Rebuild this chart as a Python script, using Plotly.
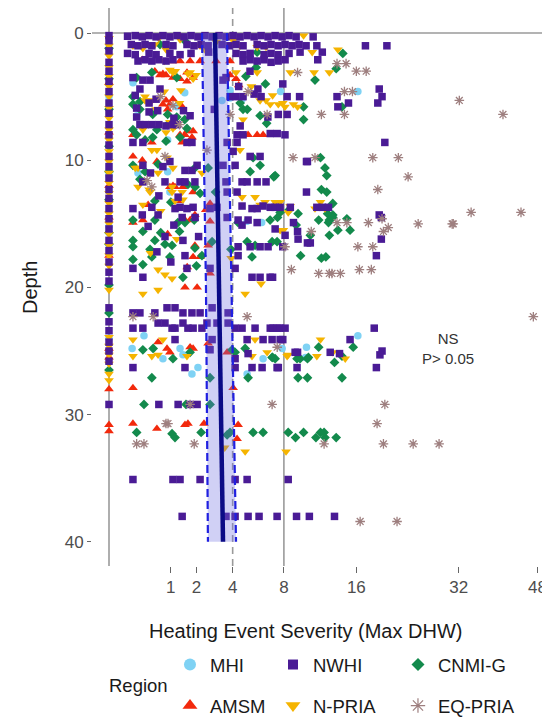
import math
import plotly.graph_objects as go

# ---------------- data: (Max DHW, depth in m) per region ----------------
mhi = [(0, 5.0), (0, 11.2), (0, 15.2), (0, 24.0), (0, 25.0),
       (0.15, 3.9), (3.83, 4.5), (7.7, 4.6), (16.2, 4.6), (3.34, 5.3), (4.63, 5.2), (3.83, 5.1),
       (1.20, 5.8), (1.5, 4.7), (0.22, 11.0), (0.90, 10.9), (0.97, 12.5), (4.99, 14.8), (6.1, 14.9),
       (0.32, 23.8), (10.2, 24.7), (0.14, 24.8), (0.76, 25.6), (1.32, 24.8), (1.43, 25.3),
       (6.21, 25.6), (7.84, 24.8), (10.1, 25.5), (16.2, 23.8), (2.07, 26.3), (1.80, 26.8), (4.99, 26.8),
       (0.20, 6.5), (0.90, 8.4)]

amsm = [(0, 3.9), (0, 7.8), (0, 12.0), (0, 14.5), (0, 17.5), (0, 24.8), (0, 25.5), (0, 28.0), (0, 30.8), (0, 31.3),
        (1.32, 0.3), (0.29, 2.1), (1.05, 2.2), (1.32, 2.2), (1.72, 2.2), (2.17, 2.2), (3.0, 2.2), (3.83, 2.2),
        (0.68, 3.3), (0.85, 3.3), (1.07, 3.5), (1.32, 3.6), (1.59, 3.1), (3.83, 3.3), (4.22, 3.6),
        (0.55, 3.0), (0.76, 3.2), (1.59, 3.8), (1.85, 3.5), (4.4, 4.1),
        (0.85, 5.3), (0.97, 5.6), (1.07, 5.2), (1.40, 5.8), (0.76, 5.6), (0.90, 6.0), (1.60, 7.7), (1.85, 7.7),
        (0.15, 8.0), (1.32, 8.0), (1.51, 8.0), (5.06, 8.0), (5.74, 8.0), (6.21, 8.0), (6.96, 8.0), (1.80, 8.2),
        (0.48, 8.6), (1.40, 8.6), (0.15, 9.7), (0.29, 10.0), (0.60, 10.1),
        (0.97, 12.1), (1.14, 12.1), (1.43, 12.1), (1.85, 12.5), (1.07, 12.0),
        (2.67, 13.4), (2.45, 13.9), (0.40, 13.5), (1.30, 13.2),
        (0.15, 14.9), (0.30, 14.7), (1.51, 14.7), (1.72, 14.7), (1.93, 14.3), (2.67, 14.8), (0.90, 15.8),
        (1.93, 16.7), (2.57, 16.7), (1.85, 17.6), (2.17, 17.6), (2.67, 18.9), (1.60, 18.4), (1.51, 20.0),
        (2.03, 20.0),
        (0.63, 24.3), (2.57, 24.4), (0.88, 24.8), (0.97, 25.1), (1.72, 24.7), (1.85, 24.8), (3.65, 25.1),
        (0.15, 27.9), (4.03, 27.9),
        (0.15, 30.7), (0.60, 31.1), (1.63, 30.7), (1.51, 30.8), (2.36, 30.7), (4.36, 30.8), (4.29, 31.9)]

nwhi = [(0, 0.2), (0, 0.6), (0, 1.4), (0, 2.3), (0, 3.0), (0, 3.8), (0, 4.6), (0, 5.5), (0, 6.3), (0, 7.2),
        (0, 8.0), (0, 8.8), (0, 9.7), (0, 10.5), (0, 11.4), (0, 12.3), (0, 13.0), (0, 13.8), (0, 14.6),
        (0, 15.4), (0, 16.3), (0, 17.1), (0, 18.0), (0, 18.8), (0, 19.5), (0, 21.6), (0, 22.7), (0, 23.4),
        (0, 24.3), (0, 25.0), (0, 25.8), (0, 29.2),
        (0.09, 0.25), (0.18, 0.2), (0.29, 0.3), (0.42, 0.2), (0.58, 0.3), (0.76, 0.2), (0.97, 0.3), (1.21, 0.2),
        (1.47, 0.3), (1.76, 0.2), (2.07, 0.3), (2.41, 0.2), (2.78, 0.3), (3.17, 0.2), (3.58, 0.3), (4.03, 0.2),
        (4.49, 0.3), (4.99, 0.2), (5.51, 0.3), (6.05, 0.2), (6.62, 0.3), (7.22, 0.2), (7.84, 0.3), (8.48, 0.2),
        (9.16, 0.3), (10.9, 0.3),
        (0.13, 0.9), (0.22, 1.0), (0.34, 0.9), (0.48, 1.0), (0.85, 0.9), (1.07, 1.0), (1.59, 0.9), (1.89, 1.0),
        (2.22, 0.9), (2.57, 1.0), (3.34, 0.9), (3.77, 1.0), (4.22, 0.9), (4.70, 1.0), (5.74, 0.9), (6.29, 1.0),
        (6.87, 0.9), (7.48, 1.0), (8.11, 0.9), (8.77, 1.0), (9.45, 0.9), (10.16, 1.0), (11.3, 1.0), (17.2, 1.0),
        (20.2, 1.0),
        (0.09, 1.6), (0.18, 1.7), (0.42, 1.6), (0.58, 1.7), (0.97, 1.6), (1.32, 1.7), (1.76, 1.6), (2.6, 1.5),
        (4.22, 1.6), (4.70, 1.7), (5.21, 1.6), (6.29, 1.7), (6.87, 1.6), (7.48, 1.7), (8.48, 1.6), (9.55, 1.5),
        (11.9, 1.5),
        (0.22, 2.2), (0.34, 2.1), (0.48, 2.2), (0.65, 2.1), (0.85, 2.2), (1.07, 2.1), (4.70, 2.2), (5.21, 2.1),
        (5.74, 2.2), (6.29, 2.1), (6.87, 2.3), (7.48, 2.2), (8.11, 2.1), (11.4, 2.1),
        (0.15, 3.5), (0.30, 3.7), (0.44, 3.7), (3.40, 3.7), (3.58, 3.5), (7.9, 4.0), (5.2, 3.0), (4.4, 4.2),
        (5.8, 4.4),
        (0.25, 4.4), (0.68, 4.4), (3.83, 5.0), (4.22, 5.0), (4.70, 5.0), (5.51, 4.8), (6.05, 5.0), (8.3, 5.0),
        (9.5, 5.0), (13.6, 5.0), (19.1, 4.4), (19.5, 5.0), (18.9, 5.5), (15.0, 5.5), (13.7, 5.8),
        (0.18, 4.9), (0.58, 5.2), (0.42, 5.5),
        (0.20, 5.9), (0.42, 6.2), (0.62, 6.1), (1.72, 6.5), (2.9, 6.0), (7.5, 6.4), (8.3, 6.4),
        (1.10, 6.7), (1.45, 6.1), (0.20, 6.6), (6.6, 6.6), (4.5, 7.3),
        (0.25, 7.2), (0.34, 7.2), (0.48, 7.2), (0.65, 7.2), (0.85, 7.3), (1.07, 7.2), (1.21, 7.2),
        (4.29, 8.0), (4.70, 8.0), (6.8, 7.9), (7.4, 7.9), (8.1, 8.0), (0.15, 8.6), (0.30, 8.6), (1.59, 8.6),
        (1.80, 8.6), (3.65, 8.6), (4.29, 8.6), (19.9, 8.6),
        (4.03, 9.3), (5.21, 9.7), (5.97, 9.7), (10.3, 10.1), (0.30, 10.4), (0.76, 10.5), (0.97, 10.1),
        (1.51, 10.8), (1.80, 10.8), (2.03, 10.4), (3.40, 10.4), (4.16, 10.4), (10.2, 10.1), (0.45, 11.0),
        (0.30, 11.7), (0.82, 11.7), (1.32, 11.7), (1.51, 11.7), (1.93, 11.7), (3.58, 11.7), (4.63, 11.7),
        (4.99, 11.7), (5.74, 11.7), (6.45, 11.7), (10.2, 12.5), (4.29, 12.5), (3.65, 12.5), (0.65, 12.8),
        (1.25, 12.9),
        (0.15, 13.8), (0.48, 13.7), (1.14, 13.8), (1.32, 13.7), (1.59, 13.8), (1.85, 13.7), (2.67, 13.8),
        (3.05, 13.7), (4.63, 13.6), (5.35, 13.8), (5.74, 13.8), (6.21, 13.6), (6.8, 13.7), (7.22, 13.7),
        (7.66, 13.7), (8.6, 13.7), (11.3, 13.7), (11.9, 13.7), (12.6, 13.7),
        (0.29, 14.3), (0.63, 14.3), (1.40, 14.5), (1.94, 14.5), (3.65, 14.5), (4.36, 14.7), (5.06, 14.7),
        (5.74, 14.9), (4.63, 15.1), (7.22, 15.4), (8.9, 14.9), (9.3, 15.6), (19.1, 14.3), (19.4, 14.5),
        (0.40, 15.2), (1.10, 15.1),
        (8.11, 15.9), (9.35, 16.2), (10.6, 16.5), (10.3, 16.5), (19.4, 16.2), (0.82, 16.0), (1.43, 16.3),
        (4.36, 16.8), (5.21, 16.8), (5.97, 16.8), (6.62, 16.8), (7.9, 16.8), (18.7, 17.5), (1.51, 17.5),
        (4.36, 17.5), (2.10, 16.0), (0.60, 17.2), (1.00, 18.0),
        (0.15, 18.5), (0.30, 19.2), (1.59, 18.5), (2.67, 18.5), (4.16, 18.5), (5.35, 19.2), (5.97, 19.2),
        (6.79, 19.2), (7.0, 19.2),
        (0.88, 21.6), (1.14, 21.6), (2.78, 21.6), (0.15, 22.0), (0.25, 22.0), (0.55, 22.0), (1.43, 22.0),
        (1.80, 22.0), (2.17, 22.0), (3.71, 22.0), (0.63, 22.8), (0.82, 22.8), (1.43, 22.8), (2.51, 22.8),
        (3.05, 22.8), (3.71, 22.8),
        (0.15, 23.2), (0.30, 23.2), (1.04, 23.2), (1.14, 23.2), (1.63, 23.2), (1.85, 23.2), (2.26, 23.2),
        (4.16, 23.2), (4.63, 23.2), (5.58, 23.2), (6.8, 23.2), (7.04, 23.2), (7.4, 23.2), (7.66, 23.2),
        (8.11, 23.2), (18.4, 23.2),
        (1.14, 24.1), (2.78, 24.1), (4.99, 24.1), (6.21, 24.1), (6.96, 24.1), (7.66, 24.1), (7.9, 24.1),
        (15.2, 24.1),
        (2.67, 24.9), (9.06, 25.1), (12.8, 25.1), (5.06, 25.2), (4.16, 25.6), (9.3, 25.1), (13.9, 25.2),
        (19.5, 25.0), (19.2, 25.3),
        (0.15, 26.3), (1.51, 26.3), (4.16, 26.3), (5.35, 26.3), (6.13, 26.3), (7.39, 26.3), (7.5, 26.3),
        (9.25, 26.3), (18.7, 26.3),
        (0.65, 29.2), (1.25, 29.2), (1.72, 29.2), (2.03, 29.2),
        (0.15, 35.1), (1.07, 35.1), (1.32, 35.1), (2.17, 35.1), (4.16, 35.1), (4.99, 35.1), (8.4, 35.1),
        (1.40, 38.0), (3.58, 38.0), (4.16, 38.0), (5.06, 38.0), (5.89, 38.0), (7.39, 38.0), (9.2, 38.0),
        (10.5, 38.0), (13.3, 38.0)]

npria = [(0, 0.4), (0, 1.0), (0, 1.8), (0, 2.7), (0, 3.4), (0, 4.2), (0, 5.0), (0, 5.9), (0, 6.7), (0, 7.6),
         (0, 8.4), (0, 9.3), (0, 10.1), (0, 11.0), (0, 11.8), (0, 12.6), (0, 13.4), (0, 14.2), (0, 15.0),
         (0, 15.8), (0, 16.7), (0, 17.5), (0, 18.3), (0, 20.2), (0, 23.9), (0, 24.6), (0, 25.3), (0, 26.0),
         (0, 26.8), (0, 27.3),
         (0.15, 1.0), (0.30, 1.2), (0.55, 0.9), (0.85, 1.3), (1.32, 0.5), (2.17, 1.0), (2.41, 1.3), (4.03, 0.6),
         (4.49, 1.0), (5.74, 1.1), (6.45, 1.1), (9.9, 0.2), (10.8, 1.5), (13.7, 1.3), (0.65, 0.4), (3.0, 0.7),
         (0.80, 2.2), (1.07, 3.1), (1.72, 3.1), (1.85, 3.6), (1.98, 3.3), (4.22, 3.1), (5.74, 3.1), (8.6, 3.1),
         (11.0, 3.1), (12.7, 3.1), (0.97, 2.9), (1.15, 3.0), (1.63, 3.2), (5.3, 4.2),
         (0.34, 5.3), (0.48, 5.3), (0.80, 4.6), (1.30, 5.5), (5.97, 5.3), (6.45, 5.3), (6.8, 5.6), (7.5, 5.6),
         (7.9, 5.5), (8.1, 5.8), (8.9, 5.6), (9.3, 5.8), (0.34, 5.0), (0.58, 6.0), (1.35, 4.5), (7.0, 4.9),
         (4.7, 6.8),
         (0.30, 7.6), (0.85, 7.8), (1.07, 7.5), (0.97, 7.0), (1.15, 7.3), (0.48, 9.2), (0.60, 9.2), (0.88, 9.8),
         (4.49, 9.2),
         (0.18, 10.6), (0.22, 10.6), (0.63, 11.0), (1.07, 10.6), (2.26, 11.0), (0.22, 12.1), (0.42, 12.3),
         (1.04, 12.1), (0.44, 12.5), (1.04, 12.5), (1.40, 12.5), (1.43, 13.1), (1.14, 13.2),
         (0.30, 13.5), (0.70, 14.0),
         (4.63, 12.9), (5.58, 12.9), (5.97, 13.5), (6.37, 13.3), (7.22, 13.3), (7.66, 13.3), (8.58, 13.6),
         (11.7, 13.3), (11.1, 13.8), (12.2, 13.8), (8.4, 14.1), (7.66, 15.5), (7.95, 15.5), (1.20, 16.2),
         (0.45, 17.3),
         (0.63, 18.6), (0.82, 19.0), (1.04, 19.3), (3.9, 17.7), (6.05, 19.7), (0.30, 20.5), (0.63, 20.2),
         (4.85, 20.5),
         (0.15, 24.1), (0.76, 24.1), (5.58, 24.1), (11.7, 24.1), (0.15, 25.4), (0.48, 25.4), (0.63, 25.3),
         (1.59, 25.4), (5.35, 25.4), (6.54, 25.1), (8.30, 25.4), (11.3, 25.4), (8.4, 25.3), (13.1, 25.1),
         (14.6, 25.6),
         (3.5, 32.6), (4.85, 32.9), (8.2, 32.9)]

cnmig = [(0, 1.2), (0, 3.6), (0, 6.0), (0, 8.9), (0, 10.9), (0, 13.1), (0, 15.7), (0, 16.6), (0, 19.8),
         (0, 22.0), (0, 26.5),
         (0.68, 0.9), (1.50, 0.6), (5.74, 1.5), (14.3, 1.6), (13.5, 2.8), (11.1, 3.7), (0.20, 3.5), (0.48, 3.1),
         (1.20, 3.5), (5.66, 2.7), (4.9, 3.4), (6.4, 4.0),
         (0.15, 5.6), (0.25, 6.0), (0.50, 6.4), (4.70, 6.0), (5.00, 6.0), (5.97, 6.5), (14.2, 5.8), (9.9, 5.8),
         (9.9, 6.8), (0.90, 7.2), (1.2, 6.6), (0.15, 5.0), (0.25, 5.4), (0.90, 6.4), (1.50, 6.8), (4.5, 5.5),
         (6.5, 7.1),
         (0.15, 7.6), (0.60, 7.6), (0.34, 8.4), (1.59, 7.5), (0.20, 8.0), (0.50, 8.2), (0.85, 8.5), (1.32, 8.2),
         (0.15, 10.4), (0.34, 10.9), (0.63, 10.3), (1.93, 10.6), (2.57, 10.6), (5.21, 10.9), (5.97, 10.4),
         (7.22, 11.2), (12.2, 10.6), (12.4, 11.2), (11.7, 9.8), (7.1, 11.3), (5.43, 9.8), (0.25, 11.5),
         (1.63, 11.9), (1.94, 12.1), (2.17, 12.6), (2.97, 12.5), (11.8, 12.3), (12.4, 12.5), (0.55, 13.2),
         (1.00, 13.3),
         (7.66, 14.1), (8.49, 13.9), (0.15, 14.7), (0.55, 14.7), (1.24, 14.9), (1.51, 14.9), (1.90, 14.7),
         (4.36, 14.9), (6.79, 14.7), (7.43, 14.5), (9.35, 14.2), (9.16, 15.1), (12.5, 14.2), (12.7, 14.7),
         (13.1, 13.4), (13.1, 14.3), (13.1, 14.5), (11.5, 14.7), (12.6, 14.9), (13.7, 15.5), (15.2, 15.5),
         (14.8, 14.6), (10.6, 15.9), (12.7, 15.9), (0.30, 15.6), (0.70, 15.7), (1.30, 15.6),
         (0.15, 16.3), (0.15, 16.8), (0.44, 17.0), (0.55, 16.3), (0.82, 16.6), (1.04, 16.7), (1.93, 16.9),
         (2.26, 17.5), (2.78, 16.4), (3.89, 17.0), (4.99, 16.4), (5.35, 17.6), (5.58, 16.7), (6.96, 16.4),
         (7.39, 16.4), (9.6, 17.5), (11.8, 17.7),
         (0.15, 17.8), (0.48, 17.6), (0.97, 17.6), (12.3, 17.6), (1.43, 19.2), (0.30, 18.2), (2.00, 18.3),
         (0.30, 24.9), (0.51, 24.8), (1.72, 25.1), (1.07, 25.6), (3.96, 24.9), (4.16, 25.1), (4.85, 24.8),
         (6.96, 25.5), (7.22, 25.6), (9.25, 25.6), (9.55, 25.6), (10.4, 25.5), (7.0, 25.5), (10.3, 25.6),
         (13.3, 25.9), (14.2, 25.4), (11.5, 24.7), (15.6, 24.7),
         (0.48, 27.1), (2.67, 27.1), (5.06, 27.1), (9.35, 27.1), (10.3, 27.1), (14.2, 27.1),
         (0.32, 29.2), (1.55, 29.2), (2.67, 29.2),
         (0.20, 31.4), (1.04, 31.5), (1.14, 31.8), (2.22, 31.4), (3.65, 31.6), (3.83, 31.4), (5.43, 31.4),
         (6.21, 31.4), (8.4, 31.4), (9.1, 31.8), (9.9, 31.4), (11.2, 31.8), (11.7, 31.4), (12.1, 31.4),
         (12.2, 31.8), (13.5, 31.8)]

eqpria = [(13.6, 2.4), (14.7, 2.4), (16.0, 3.0), (17.3, 3.0), (9.3, 3.1), (14.5, 4.6), (15.5, 4.6),
          (32.1, 5.3), (40.6, 6.4), (11.8, 6.4), (14.5, 6.4), (5.06, 4.6), (6.54, 6.4), (3.83, 6.4),
          (1.07, 5.7), (0.70, 5.0), (1.30, 7.2), (0.82, 9.7), (2.51, 9.2), (8.86, 9.8), (11.1, 9.8),
          (18.2, 9.8), (21.9, 9.8), (23.4, 11.3), (18.9, 12.3), (0.38, 11.6), (0.48, 12.1),
          (13.6, 14.9), (14.8, 14.9), (17.6, 14.9), (19.5, 14.6), (20.4, 15.3), (19.7, 15.6), (25.0, 15.0),
          (30.8, 15.0), (31.0, 15.0), (34.3, 14.1), (44.4, 14.1), (10.7, 15.6), (16.2, 16.8), (18.2, 16.8),
          (8.1, 16.8), (8.7, 18.6), (11.5, 18.9), (12.7, 18.9), (13.0, 18.9), (14.0, 18.9), (16.4, 18.6),
          (18.0, 18.6), (47.1, 22.3), (0.15, 22.3), (0.51, 22.3), (4.99, 22.3), (7.4, 24.7),
          (1.72, 29.2), (6.96, 29.2), (19.9, 29.2), (18.8, 30.7), (0.85, 30.7), (0.91, 30.7),
          (0.20, 32.3), (0.32, 32.3), (1.90, 32.3), (12.1, 32.3), (19.7, 32.3), (24.2, 32.3), (28.5, 32.3),
          (16.5, 38.4), (21.7, 38.4)]

# regression fit (Max DHW) with confidence band, by depth
fit_depth = [0, 10, 20, 30, 40]
fit_dhw = [2.94, 3.05, 3.17, 3.28, 3.40]
fit_lo = [2.26, 2.36, 2.46, 2.51, 2.56]
fit_hi = [3.64, 3.77, 3.90, 4.06, 4.22]

x_ticks = [1, 2, 4, 8, 16, 32, 48]
y_ticks = [0, 10, 20, 30, 40]
ref_dhw_solid = [0, 8]
ref_dhw_dashed = [4]
ref_depth = [0]
stat_text = "NS<br>P> 0.05"
stat_pos = (30, 24.8)

# ---------------- styling ----------------
FONT = "Liberation Sans, Arial, sans-serif"
styles = {
    "MHI": dict(symbol="circle", color="#7fd2f4", size=7.5),
    "AMSM": dict(symbol="triangle-up", color="#f2290c", size=8.5),
    "NWHI": dict(symbol="square", color="#4a1b95", size=7.5),
    "N-PRIA": dict(symbol="triangle-down", color="#f5b400", size=8.5),
    "CNMI-G": dict(symbol="diamond", color="#138a4c", size=7.5),
    "EQ-PRIA": dict(symbol="asterisk-open", color="#9e7f7f", size=8),
}
series = {"MHI": mhi, "AMSM": amsm, "CNMI-G": cnmig, "N-PRIA": npria, "NWHI": nwhi, "EQ-PRIA": eqpria}


def sx(vals):
    return [math.sqrt(v) for v in vals]


fig = go.Figure()

for name, data in series.items():
    st = styles[name]
    mk = dict(symbol=st["symbol"], color=st["color"], size=st["size"], line=dict(width=0))
    if st["symbol"] == "asterisk-open":
        mk["line"] = dict(width=1.3, color=st["color"])
    fig.add_trace(go.Scatter(x=sx([d for d, _ in data]), y=[z for _, z in data], mode="markers",
                             marker=mk, showlegend=False, hoverinfo="skip"))

# confidence band
fig.add_trace(go.Scatter(x=sx(fit_lo) + sx(fit_hi)[::-1], y=fit_depth + fit_depth[::-1],
                         fill="toself", fillcolor="rgba(110,110,225,0.32)", line=dict(width=0),
                         mode="lines", showlegend=False, hoverinfo="skip"))
for bound in (fit_lo, fit_hi):
    fig.add_trace(go.Scatter(x=sx(bound), y=fit_depth, mode="lines",
                             line=dict(color="#2020e0", width=2.2, dash="8px,4px"),
                             showlegend=False, hoverinfo="skip"))
fig.add_trace(go.Scatter(x=sx(fit_dhw), y=fit_depth, mode="lines",
                         line=dict(color="#0b0b86", width=4.5), showlegend=False, hoverinfo="skip"))

# legend entries (two rows, three columns)
legend_rows = {"legend": ["MHI", "NWHI", "CNMI-G"], "legend2": ["AMSM", "N-PRIA", "EQ-PRIA"]}
legend_sizes = {"MHI": 12, "AMSM": 13, "NWHI": 10, "N-PRIA": 13, "CNMI-G": 10, "EQ-PRIA": 12}
col_widths = [58, 80, 80]
for lg, names in legend_rows.items():
    for i, name in enumerate(names):
        st = styles[name]
        mk = dict(symbol=st["symbol"], color=st["color"], size=legend_sizes[name], line=dict(width=0))
        if st["symbol"] == "asterisk-open":
            mk["line"] = dict(width=1.2, color="#c9a9a9")
        fig.add_trace(go.Scatter(x=[None], y=[None], mode="markers", name=name, marker=mk,
                                 legend=lg, legendwidth=col_widths[i], showlegend=True))

shapes = []
for v in ref_dhw_solid:
    shapes.append(dict(type="line", xref="x", yref="paper", x0=math.sqrt(v), x1=math.sqrt(v), y0=0, y1=1,
                       line=dict(color="#9a9a9a", width=1.6), layer="below"))
for v in ref_dhw_dashed:
    shapes.append(dict(type="line", xref="x", yref="paper", x0=math.sqrt(v), x1=math.sqrt(v), y0=0, y1=1,
                       line=dict(color="#9a9a9a", width=1.6, dash="7px,5px"), layer="below"))
for v in ref_depth:
    shapes.append(dict(type="line", xref="paper", yref="y", x0=0, x1=1, y0=v, y1=v,
                       line=dict(color="#9a9a9a", width=1.6), layer="below"))

legend_common = dict(orientation="h", xanchor="left", yanchor="middle", bgcolor="rgba(0,0,0,0)",
                     font=dict(family=FONT, size=18.5, color="#1a1a1a"), itemclick=False,
                     entrywidthmode="pixels")

# the page body adds an 8 px offset, so the figure is 8 px smaller than the window
fig.update_layout(
    width=542, height=713,
    margin=dict(l=84, r=2, t=0, b=155, autoexpand=False),
    paper_bgcolor="white", plot_bgcolor="white",
    font=dict(family=FONT),
    shapes=shapes,
    xaxis=dict(range=[-0.275, 7.10], tickvals=sx(x_ticks), ticktext=[str(t) for t in x_ticks],
               ticks="outside", ticklen=6, tickwidth=1, tickcolor="#666", showgrid=False, zeroline=False,
               showline=False, automargin=False, tickfont=dict(family=FONT, size=17, color="#4d4d4d")),
    yaxis=dict(range=[41.9, -1.97], tickvals=y_ticks, ticks="outside", ticklen=4, tickwidth=1,
               tickcolor="#666", showgrid=False, zeroline=False, showline=False, automargin=False,
               tickfont=dict(family=FONT, size=17, color="#4d4d4d")),
    legend=dict(legend_common, x=0.171, y=-0.1774),
    legend2=dict(legend_common, x=0.171, y=-0.2509),
    annotations=[
        dict(text=stat_text, x=math.sqrt(stat_pos[0]), y=stat_pos[1], xref="x", yref="y", showarrow=False,
             font=dict(family=FONT, size=15, color="#333")),
        dict(text="Heating Event Severity (Max DHW)", x=0.469, y=-0.1165, xref="paper", yref="paper",
             showarrow=False, xanchor="center", yanchor="middle", font=dict(family=FONT, size=20, color="#1a1a1a")),
        dict(text="Depth", x=-0.136, y=0.5, xref="paper", yref="paper", textangle=-90, showarrow=False,
             xanchor="center", yanchor="middle", font=dict(family=FONT, size=20, color="#1a1a1a")),
        dict(text="Region", x=0.103, y=-0.215, xref="paper", yref="paper", showarrow=False,
             xanchor="center", yanchor="middle", font=dict(family=FONT, size=18.5, color="#1a1a1a")),
    ],
)

fig.write_html("out.html")
